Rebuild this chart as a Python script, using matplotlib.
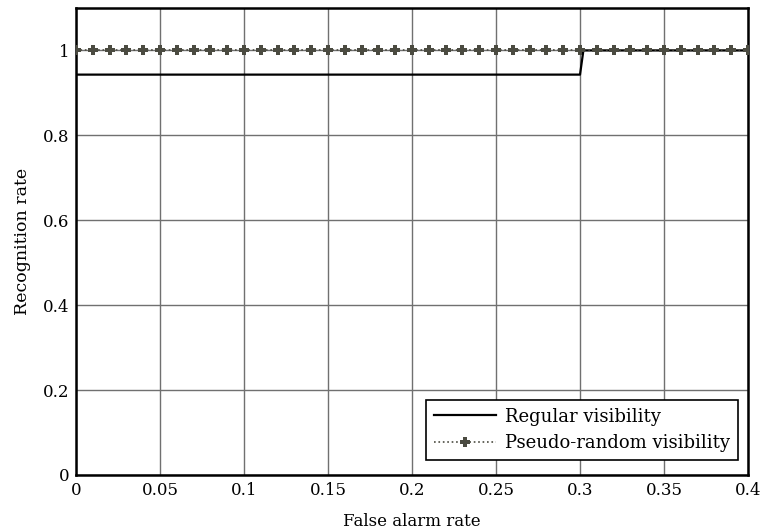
import matplotlib
matplotlib.use("Agg")
import matplotlib.pyplot as plt
import numpy as np

# Data
regular_x = [0.0, 0.30, 0.302, 0.40]
regular_y = [0.943, 0.943, 1.0, 1.0]
pseudo_x = [round(0.01 * i, 2) for i in range(41)]
pseudo_y = [1.0] * 41
xticks = [0, 0.05, 0.1, 0.15, 0.2, 0.25, 0.3, 0.35, 0.4]
xticklabels = ["0", "0.05", "0.1", "0.15", "0.2", "0.25", "0.3", "0.35", "0.4"]
yticks = [0, 0.2, 0.4, 0.6, 0.8, 1.0]
yticklabels = ["0", "0.2", "0.4", "0.6", "0.8", "1"]

plt.rcParams['font.family'] = ['DejaVu Serif']
fig = plt.figure(figsize=(7.64, 5.31), dpi=100)
ax = fig.add_axes([0.0995, 0.1055, 0.8796, 0.8795])

ax.plot(regular_x, regular_y, color='black', lw=1.6, label='Regular visibility', zorder=3)
ax.plot(pseudo_x, pseudo_y, color='#4b4b41', lw=1.2, ls=':', marker='P', ms=7.5,
        markeredgewidth=0, label='Pseudo-random visibility', zorder=4)

ax.set_xlim(0, 0.4)
ax.set_ylim(0, 1.1)
ax.set_xticks(xticks)
ax.set_xticklabels(xticklabels)
ax.set_yticks(yticks)
ax.set_yticklabels(yticklabels)
ax.grid(True, color='#707070', lw=1.0, ls='-')
ax.set_axisbelow(True)
ax.tick_params(direction='in', length=0, labelsize=12, pad=5)
for s in ax.spines.values():
    s.set_linewidth(1.8)

ax.set_xlabel('False alarm rate', fontsize=12, labelpad=10)
ax.set_ylabel('Recognition rate', fontsize=12.5, labelpad=8)

leg = ax.legend(loc='lower right', bbox_to_anchor=(0.985, 0.032), borderaxespad=0,
                fontsize=13, fancybox=False, framealpha=1, edgecolor='black',
                handlelength=3.4, handletextpad=0.5, borderpad=0.45, labelspacing=0.45)
leg.get_frame().set_linewidth(1.2)

fig.savefig('out.png', dpi=100)
